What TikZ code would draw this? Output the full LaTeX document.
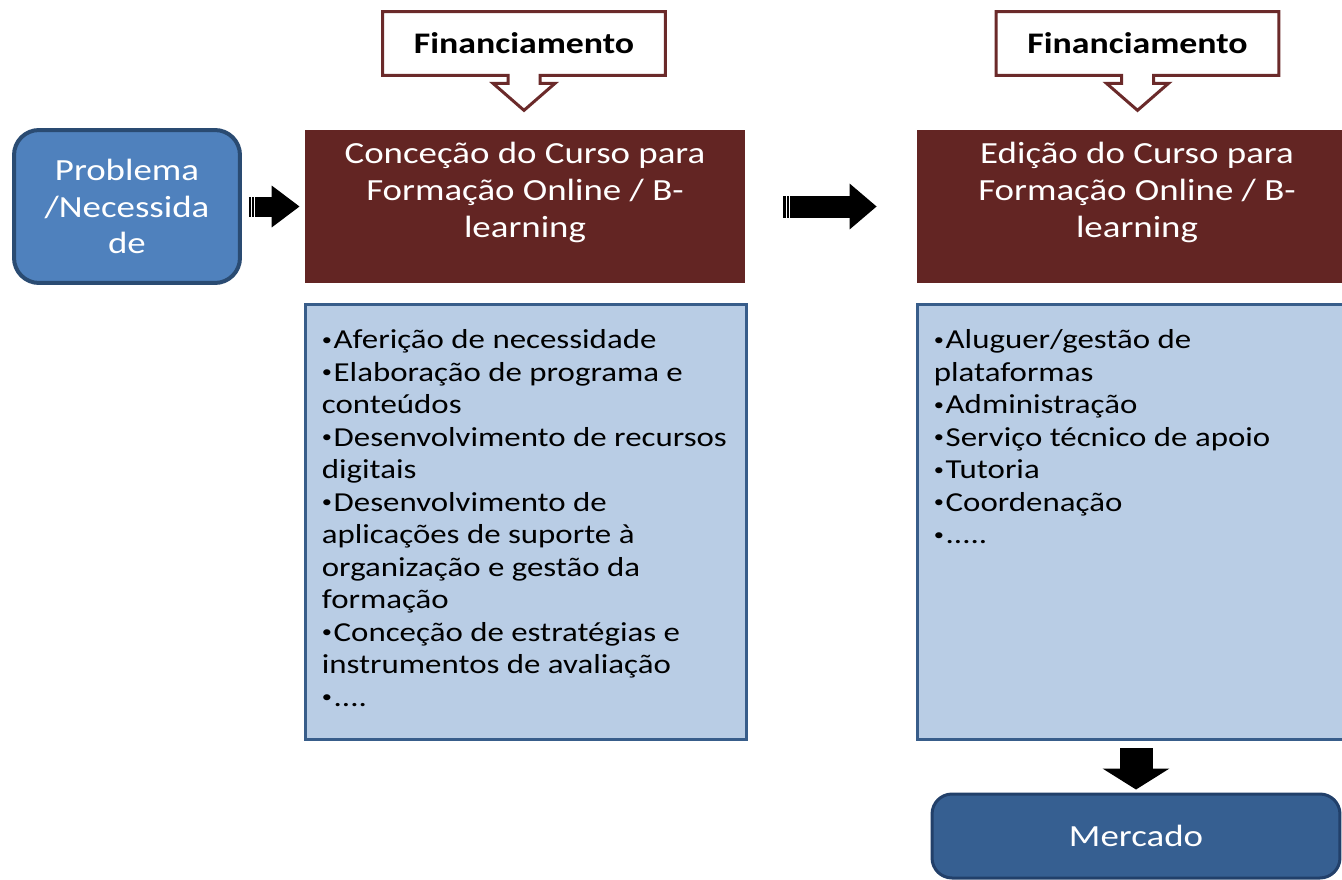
\documentclass[tikz,border=0pt]{standalone}
\usepackage{fontspec}
\setmainfont{Carlito}[FakeStretch=1.2]
\usetikzlibrary{positioning}
\usetikzlibrary{calc}
\usetikzlibrary{arrows.meta}
\definecolor{probfill}{HTML}{4F81BD}
\definecolor{probline}{HTML}{2A4B72}
\definecolor{brownfill}{HTML}{632523}
\definecolor{finline}{HTML}{6B2A2A}
\definecolor{listfill}{HTML}{B9CDE5}
\definecolor{listline}{HTML}{385D8A}
\definecolor{merkfill}{HTML}{365F91}
\definecolor{merkline}{HTML}{22406A}
\newcommand{\bul}{\raisebox{0.28ex}{\scalebox{0.62}{•}}\hspace{0.06em}}
\tikzset{
	bignode/.style = {align=center, inner sep=0pt, text=white,
		font=\fontsize{17.5}{21}\selectfont},
	probnode/.style = {bignode, rectangle, rounded corners=0.5cm, draw=probline,
		line width=0.08cm, fill=probfill, minimum width=4.52cm, minimum height=3.06cm},% problema
	brownbox/.style = {rectangle, fill=brownfill, inner sep=0pt,
		minimum width=8.8cm, minimum height=3.06cm},% caixa castanha
	browntitle/.style = {bignode, anchor=north},
	listbox/.style = {rectangle, fill=listfill, draw=listline, line width=0.06cm,
		inner sep=0pt, minimum width=8.84cm, minimum height=8.72cm},% caixa azul clara
	listtext/.style = {align=left, inner sep=0pt, anchor=north west,
		font=\fontsize{15.6}{18.5}\selectfont},
	finnode/.style = {align=center, inner sep=0pt, minimum width=5.64cm,
		minimum height=1.26cm, font=\fontsize{17}{20}\selectfont\bfseries},% financiamento
	finshape/.style = {draw=finline, line width=0.06cm, fill=white, line join=miter},
	merknode/.style = {bignode, rectangle, rounded corners=0.4cm, draw=merkline,
		line width=0.06cm, fill=merkfill, minimum width=8.16cm, minimum height=1.68cm},% mercado
	blockarrow/.style = {draw=black, line width=#1},
	tailstripe/.style = {draw=white, line width=0.02cm}
}

\begin{document}
\begin{tikzpicture}[x=0.02cm,y=-0.02cm]
	\useasboundingbox (0,0) rectangle (1342,879);
	\clip (0,0) rectangle (1342,879);
	\fill[white] (0,0) rectangle (1342,879);

	% caixas
	\node[probnode] (prob) at (127,206.5) {Problema\\/Necessida\\de};
	\node[brownbox] (conc) at (525,206.5) {};
	\node[browntitle, below=0.24cm of conc.north] (conct) {Conceção do Curso para\\Formação Online / B-\\learning};
	\node[brownbox, minimum width=8.86cm] (edic) at (1138.5,206.5) {};
	\node[browntitle, below=0.24cm of edic.north, xshift=-0.03cm] (edict) {Edição do Curso para\\Formação Online / B-\\learning};

	\node[listbox] (concl) at (526,522) {};
	\node[listtext, below right=0.54cm and 0.36cm of concl.north west] (conclt) {%
		\bul Aferição de necessidade\\
		\bul Elaboração de programa e\\
		conteúdos\\
		\bul Desenvolvimento de recursos\\
		digitais\\
		\bul Desenvolvimento de\\
		aplicações de suporte à\\
		organização e gestão da\\
		formação\\
		\bul Conceção de estratégias e\\
		instrumentos de avaliação\\
		\bul ....};
	\node[listbox, minimum width=8.86cm] (edicl) at (1138.5,522) {};
	\node[listtext, below right=0.54cm and 0.36cm of edicl.north west] (ediclt) {%
		\bul Aluguer/gestão de\\
		plataformas\\
		\bul Administração\\
		\bul Serviço técnico de apoio\\
		\bul Tutoria\\
		\bul Coordenação\\
		\bul .....};

	\node[merknode] (merk) at (1136,836) {Mercado};

	% financiamento
	\node[finnode] (fin1) at (524,43.5) {};
	\node[finnode] (fin2) at (1137.5,43.5) {};
	\foreach \f in {fin1,fin2}{
		\draw[finshape] (\f.north west) -- (\f.north east) -- (\f.south east)
			-- ($(\f.south)+(16,0)$) -- ++(0,8) -- ++(15,0) -- ($(\f.south)+(0,35)$)
			-- ($(\f.south)+(-31,8)$) -- ++(15,0) -- ($(\f.south)+(-16,0)$)
			-- (\f.south west) -- cycle;
		\node[finnode] at (\f) {Financiamento};
	}

	% setas
	\draw[blockarrow=0.4cm, -{Triangle[length=0.56cm,width=0.8cm]},
		shorten <=0.14cm, shorten >=0.1cm] (prob.east |- conc) -- (conc.west);
	\draw[blockarrow=0.44cm, -{Triangle[length=0.54cm,width=0.88cm]},
		shorten <=0.76cm, shorten >=0.8cm] (conc.east) -- (edic.west);
	\draw[blockarrow=0.66cm, -{Triangle[length=0.42cm,width=1.32cm]},
		shorten <=0.14cm, shorten >=0.06cm] (merk.north |- edicl.south) -- (merk.north);
	\coordinate (tail1) at ($(prob.east |- conc)+(10,0)$);
	\coordinate (tail2) at ($(conc.east)+(41,0)$);
	\draw[tailstripe] (tail1) ++(0,-10) -- ++(0,20);
	\draw[tailstripe] (tail1) ++(3,-10) -- ++(0,20);
	\draw[tailstripe] (tail2) ++(0,-11) -- ++(0,22);
	\draw[tailstripe] (tail2) ++(3,-11) -- ++(0,22);
\end{tikzpicture}
\end{document}
